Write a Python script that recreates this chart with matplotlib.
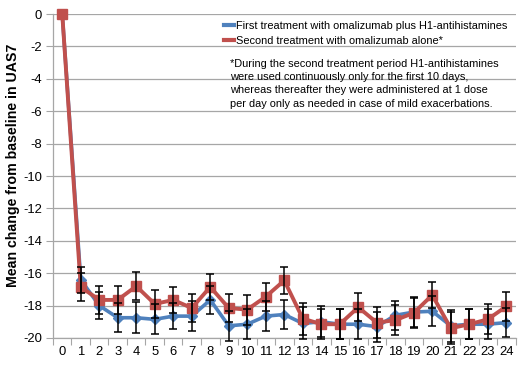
import matplotlib
matplotlib.use("Agg")
import matplotlib.pyplot as plt
from matplotlib.lines import Line2D

plt.rcParams['font.family'] = ['Liberation Sans', 'DejaVu Sans']
plt.rcParams['axes.unicode_minus'] = False

# Weeks after start of treatment
weeks = list(range(25))

# Mean change from baseline in UAS7
first_tx = [0, -16.4, -18.0, -18.75, -18.75, -18.85, -18.65, -18.65, -17.65, -19.25,
            -19.15, -18.65, -18.55, -19.1, -19.0, -19.15, -19.15, -19.3, -18.6,
            -18.4, -18.35, -19.25, -19.15, -19.15, -19.05]
second_tx = [0, -16.85, -17.65, -17.65, -16.8, -17.9, -17.65, -18.15, -16.85, -18.15,
             -18.25, -17.45, -16.45, -18.8, -19.15, -19.15, -18.1, -19.05, -18.9,
             -18.45, -17.35, -19.4, -19.15, -18.85, -18.05]

# error bars
first_err = [0, 0.8, 0.85, 0.9, 0.95, 0.93, 0.82, 0.93, 0.87, 0.91, 0.93, 0.91, 0.91,
             0.99, 0.95, 0.93, 0.93, 0.93, 0.91, 0.93, 0.93, 0.99, 0.93, 0.93, 0.91]
second_err = [0, 0.87, 0.85, 0.87, 0.85, 0.84, 0.82, 0.89, 0.79, 0.89, 0.93, 0.87, 0.81,
              0.99, 0.93, 0.93, 0.87, 0.95, 0.93, 0.93, 0.82, 0.99, 0.93, 0.93, 0.89]

labels = ["First treatment with omalizumab plus H1-antihistamines",
          "Second treatment with omalizumab alone*"]
note = ("*During the second treatment period H1-antihistamines\n"
        "were used continuously only for the first 10 days,\n"
        "whereas thereafter they were administered at 1 dose\n"
        "per day only as needed in case of mild exacerbations.")

blue = "#4F81BD"
red = "#C0504D"
grey = "#A6A6A6"

fig = plt.figure(figsize=(5.19, 3.65), dpi=100)
ax = fig.add_axes([0.1021, 0.074, 0.8912, 0.8876])

# Lines
ax.plot(weeks, first_tx, color=blue, lw=2.6, marker="D", ms=5.5, zorder=3, clip_on=False)
ax.plot(weeks, second_tx, color=red, lw=2.8, marker="s", ms=7, zorder=4, clip_on=False)

# Error bars (drawn on top)
ax.errorbar(weeks[1:], first_tx[1:], yerr=first_err[1:], fmt="none", ecolor="black",
            elinewidth=1.1, capsize=3, capthick=1.1, zorder=5, clip_on=False)
ax.errorbar(weeks[1:], second_tx[1:], yerr=second_err[1:], fmt="none", ecolor="black",
            elinewidth=1.1, capsize=3, capthick=1.1, zorder=5, clip_on=False)

ax.set_xlim(-0.5, 24.5)
ax.set_ylim(-20, 0)
ax.set_yticks(range(-20, 1, 2))
ax.set_xticks(weeks)
ax.set_xticks([w - 0.5 for w in weeks] + [24.5], minor=True)
ax.tick_params(axis="x", which="major", length=0, labelsize=9.4, pad=6)
ax.tick_params(axis="x", which="minor", length=5, color=grey, width=0.8)
ax.tick_params(axis="y", length=5, color=grey, width=0.8, labelsize=9.4, pad=3)

ax.yaxis.grid(True, color=grey, lw=0.9)
ax.set_axisbelow(True)
for s in ["top", "right"]:
    ax.spines[s].set_visible(False)
for s in ["left", "bottom"]:
    ax.spines[s].set_color(grey)
    ax.spines[s].set_linewidth(0.9)

# y label, placed a bit above the axes centre like the original
fig.text(13.5 / 519, 1 - 165 / 365, "Mean change from baseline in UAS7", rotation=90,
         ha="center", va="center", fontsize=10.2, fontweight="bold")

# Legend
handles = [Line2D([0], [0], color=blue, lw=3), Line2D([0], [0], color=red, lw=3)]
ax.legend(handles, labels, loc="upper left", bbox_to_anchor=(0.355, 1.0), frameon=False,
          fontsize=7.9, handlelength=0.9, handletextpad=0.15, borderaxespad=0.25,
          labelspacing=0.45)

ax.text(0.383, 0.862, note, transform=ax.transAxes, fontsize=7.9, va="top", ha="left",
        linespacing=1.42)

plt.savefig("out.png", dpi=100)
